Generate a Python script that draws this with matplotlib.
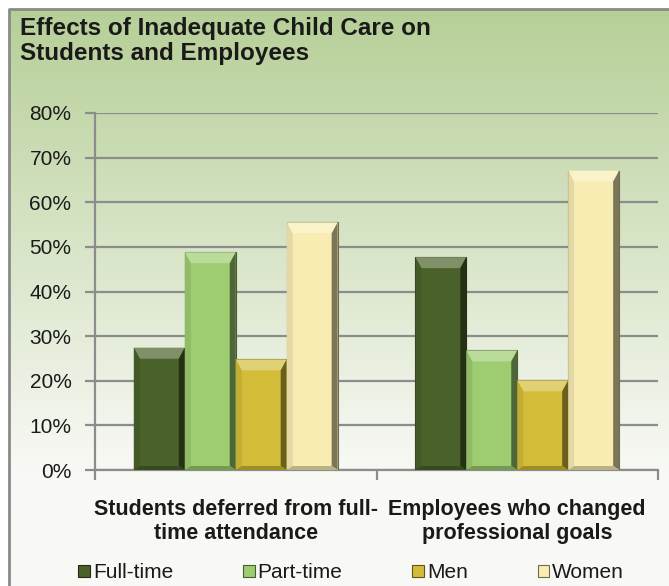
import numpy as np
import matplotlib.pyplot as plt
import matplotlib.colors as mcolors
from matplotlib.patches import Polygon, Patch

plt.rcParams['font.family'] = ['Liberation Sans', 'DejaVu Sans']

# data
categories = ['Students deferred from full-\ntime attendance',
              'Employees who changed\nprofessional goals']
series = ['Full-time', 'Part-time', 'Men', 'Women']
full_time = [27.4, 47.7]
part_time = [48.8, 26.8]
men = [24.8, 20.1]
women = [55.5, 67.1]
values = [full_time, part_time, men, women]
colors = ['#4a6229', '#9ecc70', '#d3bd38', '#f8ecb2']
yticks = [0, 10, 20, 30, 40, 50, 60, 70, 80]


def shade(c, f):
    r = np.array(mcolors.to_rgb(c))
    if f > 0:
        r = r + (1 - r) * f
    else:
        r = r * (1 + f)
    return tuple(np.clip(r, 0, 1))


W, H = 669, 586
fig = plt.figure(figsize=(W / 100, H / 100), dpi=100)
fig.patch.set_facecolor('white')

# gradient background inside the border
bx, by = 9, 9
bg = fig.add_axes([bx / W, 0, 1 - bx / W, 1 - by / H], zorder=0)
top = np.array(mcolors.to_rgb('#b6cf97'))
bot = np.array(mcolors.to_rgb('#f8f9f5'))
t = np.clip(np.linspace(0, 1.25, 300), 0, 1)[:, None]
grad = top * (1 - t) + bot * t
bg.imshow(grad[:, None, :], aspect='auto', extent=[0, 1, 0, 1])
bg.set_xlim(0, 1)
bg.set_ylim(0, 1)
bg.axis('off')
fig.add_artist(plt.Line2D([bx / W, bx / W, 1], [0, 1 - by / H, 1 - by / H],
                          color='#8a8a8a', lw=2, transform=fig.transFigure))

ax = fig.add_axes([95 / W, 1 - 470 / H, (658 - 95) / W, (470 - 113) / H], zorder=1)
ax.patch.set_alpha(0)

x = np.arange(len(categories))
w = 0.181
px_x = ((658 - 95) / 2.0)   # pixels per x unit
px_y = (470 - 113) / 80.0   # pixels per percent
for i, (name, vals, c) in enumerate(zip(series, values, colors)):
    xs = x + (i - 1.5) * w
    bars = ax.bar(xs, vals, w, color=c, edgecolor=shade(c, -0.55), linewidth=0.8,
                  label=name, zorder=3)
    # bevel facets
    for b in bars:
        x0, y1 = b.get_x(), b.get_height()
        x1 = x0 + b.get_width()
        dx = 6 / px_x
        dyt = 11 / px_y
        dyb = 4 / px_y
        facets = [
            ([(x0, y1), (x1, y1), (x1 - dx, y1 - dyt), (x0 + dx, y1 - dyt)], shade(c, 0.3)),
            ([(x1, y1), (x1, 0), (x1 - dx, dyb), (x1 - dx, y1 - dyt)], shade(c, -0.5)),
            ([(x0, y1), (x0, 0), (x0 + dx, dyb), (x0 + dx, y1 - dyt)], shade(c, -0.08)),
            ([(x0, 0), (x1, 0), (x1 - dx, dyb), (x0 + dx, dyb)], shade(c, -0.25)),
        ]
        for pts, fc in facets:
            ax.add_patch(Polygon(pts, closed=True, facecolor=fc, edgecolor='none', zorder=4))

ax.set_xlim(-0.5, 1.5)
ax.set_ylim(0, 80)
ax.set_yticks(yticks)
ax.set_yticklabels([f'{v}%' for v in yticks], fontsize=15, color='#1a1a1a')
ax.set_xticks(x)
ax.set_xticklabels(categories, fontsize=15.5, fontweight='bold', color='#1a1a1a',
                   linespacing=1.15)
ax.set_xticks([-0.5, 0.5, 1.5], minor=True)
ax.yaxis.grid(True, color='#8c8c8c', lw=1.6, zorder=1)
ax.set_axisbelow(True)
for s in ['top', 'right']:
    ax.spines[s].set_visible(False)
for s in ['left', 'bottom']:
    ax.spines[s].set_color('#8c8c8c')
    ax.spines[s].set_linewidth(1.6)
ax.tick_params(axis='y', length=7, width=1.6, color='#8c8c8c', pad=10)
ax.tick_params(axis='x', which='major', length=0, pad=21)
ax.tick_params(axis='x', which='minor', length=7, width=1.6, color='#8c8c8c')

fig.text(20 / W, 1 - 17 / H, 'Effects of Inadequate Child Care on\nStudents and Employees',
         ha='left', va='top', fontsize=17.5, fontweight='bold', color='#1a1a1a',
         linespacing=1.13)

handles = [Patch(facecolor=c, edgecolor=shade(c, -0.55), lw=0.8) for c in colors]
fig.legend(handles, series, loc='center', bbox_to_anchor=(0.525, 1 - 573 / H), ncol=4,
           frameon=False, fontsize=15, handlelength=0.55, handleheight=0.55,
           handletextpad=0.15, columnspacing=3.35, labelcolor='#1a1a1a',
           borderpad=0, borderaxespad=0)

fig.savefig('out.png', dpi=100)
